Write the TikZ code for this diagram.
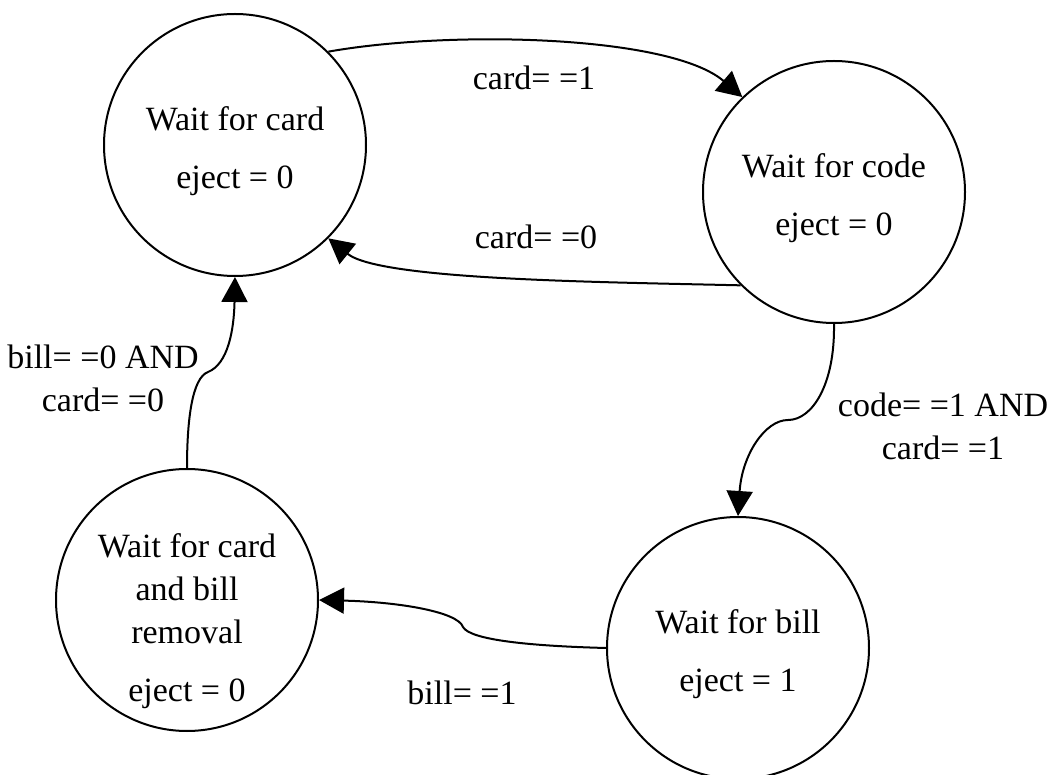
\documentclass[tikz,border=0pt]{standalone}
\usepackage{fontspec}
\setmainfont{Liberation Serif}
\usetikzlibrary{arrows.meta}

\tikzset{
  state/.style={draw, circle, line width=1pt, minimum size=131pt, inner sep=0pt},
  txt/.style={align=center, inner sep=0pt, font=\fontsize{17}{21.5}\selectfont},
  trans/.style={-{Triangle[length=12.5pt,width=13pt]}, line width=1pt},
}

\begin{document}
\begin{tikzpicture}[x=0.5pt, y=-0.5pt]
  \useasboundingbox (0,0) rectangle (1051,775);
  % states
  \node[state] (card) at (235,145) {};
  \node[state] (code) at (834,192) {};
  \node[state] (bill) at (738,648) {};
  \node[state] (rem)  at (187,600) {};
  \node[txt] (cardtxt) at (235,151) {Wait for card\\[7.5pt]eject = 0};
  \node[txt] (codetxt) at (834,198) {Wait for code\\[7.5pt]eject = 0};
  \node[txt] (billtxt) at (738,654) {Wait for bill\\[7.5pt]eject = 1};
  \node[txt] (remtxt)  at (187,621) {Wait for card\\and bill\\removal\\[7.5pt]eject = 0};
  % transitions
  \draw[trans] (card.45) .. controls (450,30) and (670,35) .. (code.134);
  \draw[trans] (code.225) .. controls (600,282) and (380,280) .. (card.315);
  \draw[trans] (code.south) .. controls (835,385) and (812,420) .. (788,420)
    .. controls (765,420) and (742,455) .. (bill.north);
  \draw[trans] (bill.west) .. controls (530,646) and (470,640) .. (463,627)
    .. controls (458,612) and (400,602) .. (rem.east);
  \draw[trans] (rem.north) .. controls (187,420) and (192,378) .. (208,372)
    .. controls (228,364) and (234,330) .. (card.south);
  % labels
  \node[txt] (c1) at (534,78) {card= =1};
  \node[txt] (c0) at (536,237) {card= =0};
  \node[txt] (cc) at (943,426) {code= =1 AND\\card= =1};
  \node[txt] (b1) at (462,693) {bill= =1};
  \node[txt] (bc) at (103,378) {bill= =0 AND\\card= =0};
\end{tikzpicture}
\end{document}
